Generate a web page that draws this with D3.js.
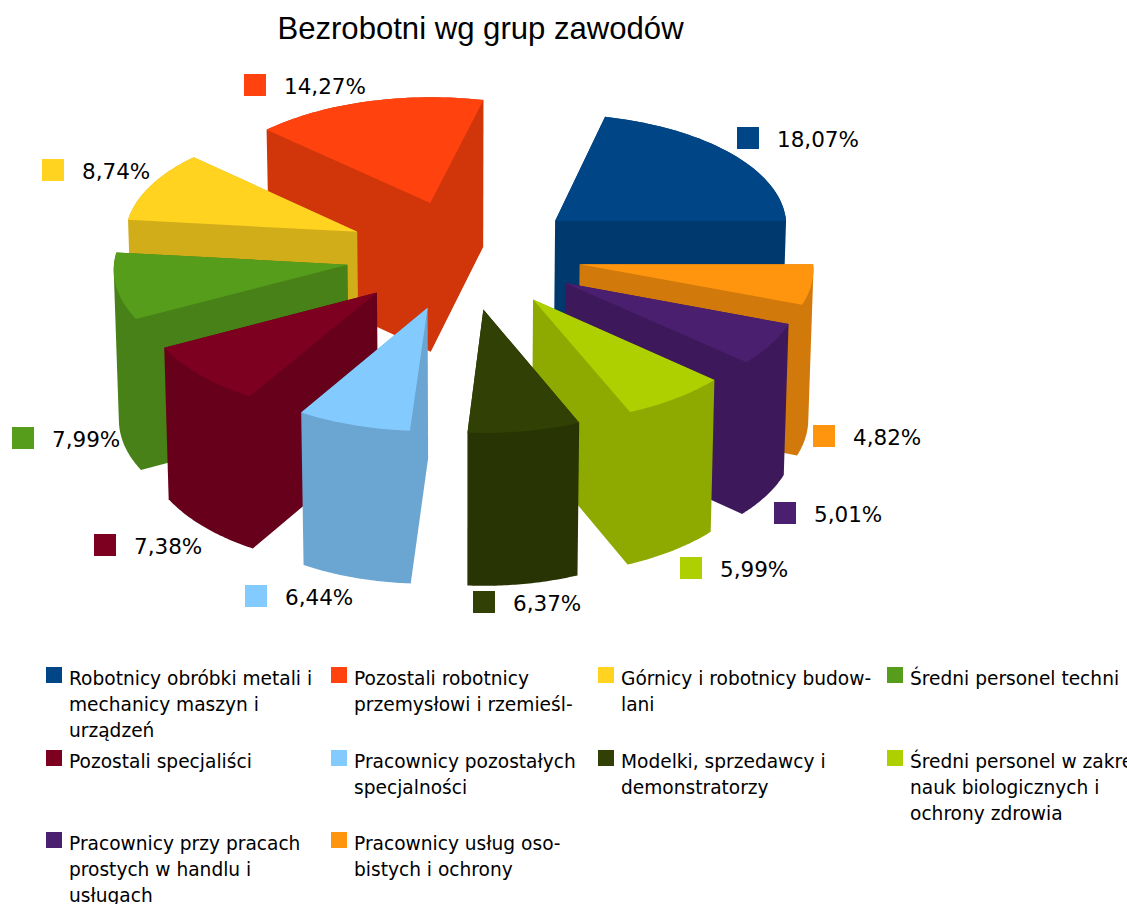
<!DOCTYPE html>
<html>
<head>
<meta charset="utf-8">
<script src="https://cdn.jsdelivr.net/npm/d3@7"></script>
<style>
  html, body { margin: 0; padding: 0; background: #fff; overflow: hidden; }
  svg { display: block; }
  text { fill: #000; font-family: "DejaVu Sans", sans-serif; }
</style>
</head>
<body>
<div id="chart"></div>
<script>
var width = 1127;
var height = 904;

var percents = [18.07, 14.27, 8.74, 7.99, 7.38, 6.44, 6.37, 5.99, 5.01, 4.82];
var percentLabels = ["18,07%", "14,27%", "8,74%", "7,99%", "7,38%", "6,44%", "6,37%", "5,99%", "5,01%", "4,82%"];
var colors = ["#004586", "#ff420e", "#ffd320", "#579d1c", "#7e0021", "#83caff", "#314004", "#aecf00", "#4b1f6f", "#ff950e"];
var legendLines = [
  ["Robotnicy obróbki metali i", "mechanicy maszyn i", "urządzeń"],
  ["Pozostali robotnicy", "przemysłowi i rzemieśl-"],
  ["Górnicy i robotnicy budow-", "lani"],
  ["Średni personel techni"],
  ["Pozostali specjaliści"],
  ["Pracownicy pozostałych", "specjalności"],
  ["Modelki, sprzedawcy i", "demonstratorzy"],
  ["Średni personel w zakre", "nauk biologicznych i", "ochrony zdrowia"],
  ["Pracownicy przy pracach", "prostych w handlu i", "usługach"],
  ["Pracownicy usług oso-", "bistych i ochrony"]
];

// top left corner of the little square next to every percent label
var labelSpots = [[737, 127], [244, 74], [42, 159], [12, 427], [94, 534], [245, 585], [473, 591], [680, 557], [774, 502], [813, 425]];

var explodeX = 0.505;
var explodeZ = 0.48;
// how much nearer things grow, per direction
var leanX = 0.03;
var leanZ = 0.04;
var leanWall = 0.025;
var drop = 0.015;     // how much the bottom of the wall shrinks

var x = d3.scaleLinear().domain([-1, 1]).range([-233, 233]);
var z = d3.scaleLinear().domain([-1, 1]).range([-114, 114]);
var wall = d3.scaleLinear().domain([0, 1]).range([0, 152]);
var cx = 463.5;
var cy = 254.5;

var svg = d3.select("#chart").append("svg")
  .attr("width", width)
  .attr("height", height);

svg.append("text")
  .attr("x", 480.5)
  .attr("y", 39)
  .attr("text-anchor", "middle")
  .style("font-family", "'Liberation Sans', sans-serif")
  .style("font-size", "31.1px")
  .text("Bezrobotni wg grup zawodów");

var slices = d3.pie().sort(null).startAngle(0).endAngle(2 * Math.PI)(percents);

function project(d, angle, radius, depth) {
  var mid = (d.startAngle + d.endAngle) / 2;
  var wx = radius * Math.cos(angle) + explodeX * Math.cos(mid);
  var wz = -(radius * Math.sin(angle) + explodeZ * Math.sin(mid));
  var shrink = 1 + drop * depth;
  return [
    cx + x(wx) / (1 - leanX * wz) / shrink,
    cy + (z(wz) / (1 - leanZ * wz) + wall(depth) / (1 - leanWall * wz)) / shrink
  ];
}

function rim(d, depth) {
  var steps = 40;
  return d3.range(steps + 1).map(function(i) {
    return project(d, d.startAngle + (d.endAngle - d.startAngle) * i / steps, 1, depth);
  });
}

var line = d3.line();

// painter's order, the slices further back first
var order = slices.slice().sort(function(a, b) {
  return project(a, 0, 0, 0)[1] - project(b, 0, 0, 0)[1];
});

var pie = svg.append("g");

order.forEach(function(d) {
  var col = colors[d.index];
  var side = d3.color(col).darker(0.56).formatHex();
  var g = pie.append("g");
  var apexTop = project(d, 0, 0, 0);
  var apexBottom = project(d, 0, 0, 1);
  var top = rim(d, 0);
  var bottom = rim(d, 1);

  // every slice is under 180 degrees, so its body is just the outline of all corners
  var hull = d3.polygonHull([apexTop, apexBottom].concat(top, bottom));

  g.append("path")
    .attr("d", line(hull) + "Z")
    .attr("fill", side);

  g.append("path")
    .attr("d", line([apexTop].concat(top)) + "Z")
    .attr("fill", col);
});

// percent labels
labelSpots.forEach(function(s, i) {
  svg.append("rect")
    .attr("x", s[0])
    .attr("y", s[1])
    .attr("width", 22)
    .attr("height", 22)
    .attr("fill", colors[i]);
  svg.append("text")
    .attr("x", s[0] + 40)
    .attr("y", s[1] + 20)
    .style("font-size", "21.5px")
    .text(percentLabels[i]);
});

// legend, four columns
var legendCols = [46, 331, 598, 887];
var legendRows = [667, 750, 832];
legendLines.forEach(function(lines, i) {
  var lx = legendCols[i % 4];
  var ly = legendRows[Math.floor(i / 4)];
  svg.append("rect")
    .attr("x", lx)
    .attr("y", ly)
    .attr("width", 16)
    .attr("height", 16)
    .attr("fill", colors[i]);
  lines.forEach(function(t, j) {
    svg.append("text")
      .attr("x", lx + 23)
      .attr("y", ly + 18 + j * 26)
      .style("font-size", "18.6px")
      .text(t);
  });
});
</script>
</body>
</html>
